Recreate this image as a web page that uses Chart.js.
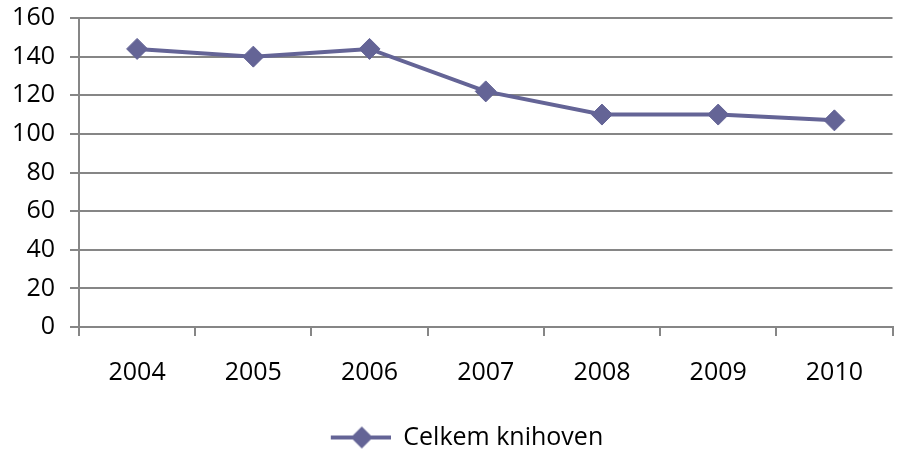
<!DOCTYPE html>
<html>
<head>
<meta charset="utf-8">
<script src="https://cdn.jsdelivr.net/npm/chart.js@4"></script>
<style>
  html, body { margin: 0; padding: 0; background: #fff; overflow: hidden; }
  #wrap { width: 904px; height: 451px; }
</style>
</head>
<body>
<div id="wrap"><canvas id="chart"></canvas></div>
<script>
/* ===== data ===== */
const years = ["2004", "2005", "2006", "2007", "2008", "2009", "2010"];
const libraries = [144, 140, 144, 122, 110, 110, 107];
const seriesName = "Celkem knihoven";
const yTicks = [0, 20, 40, 60, 80, 100, 120, 140, 160];

const LINE = "#646496";
const GRID = "#868686";
const FONT = "'Open Sans', 'Liberation Sans', sans-serif";

/* legend marker: line with a diamond on it (blank strip on the left nudges the legend right) */
function legendMarker() {
    const c = document.createElement("canvas");
    c.width = 90;
    c.height = 24;
    const g = c.getContext("2d");
    g.strokeStyle = LINE;
    g.lineWidth = 4;
    g.beginPath();
    g.moveTo(30, 12);
    g.lineTo(90, 12);
    g.stroke();
    g.fillStyle = LINE;
    g.beginPath();
    g.moveTo(61, 1);
    g.lineTo(72, 12);
    g.lineTo(61, 23);
    g.lineTo(50, 12);
    g.closePath();
    g.fill();
    return c;
}

new Chart(document.getElementById("chart"), {
    type: "line",
    data: {
        labels: years,
        datasets: [{
            label: seriesName,
            data: libraries,
            borderColor: LINE,
            backgroundColor: LINE,
            borderWidth: 4,
            pointStyle: "rectRot",
            pointRadius: 10.5,
            pointBorderWidth: 1,
            pointBackgroundColor: LINE,
            pointBorderColor: LINE,
            tension: 0
        }]
    },
    options: {
        responsive: true,
        maintainAspectRatio: false,
        animation: false,
        layout: { padding: { top: 18, left: 0, right: 0, bottom: -9 } },
        plugins: {
            tooltip: { enabled: false },
            legend: {
                position: "bottom",
                labels: {
                    usePointStyle: true,
                    pointStyle: legendMarker(),
                    pointStyleWidth: 90,
                    boxHeight: 24,
                    padding: 0,
                    color: "#000",
                    font: { family: FONT, size: 25 }
                }
            }
        },
        scales: {
            x: {
                offset: true,
                afterFit: s => { s.height = 98; },
                grid: {
                    offset: true,
                    drawOnChartArea: false,
                    drawTicks: true,
                    tickLength: 9,
                    color: GRID,
                    lineWidth: 2
                },
                border: { color: GRID, width: 2 },
                ticks: {
                    color: "#000",
                    padding: 22,
                    maxRotation: 0,
                    font: { family: FONT, size: 25 }
                }
            },
            y: {
                min: 0,
                max: 160,
                afterFit: s => {
                    s.width = 79;
                    s.paddingTop = 0;
                    s.paddingBottom = 0;
                },
                afterBuildTicks: s => { s.ticks = yTicks.map(v => ({ value: v })); },
                grid: {
                    color: GRID,
                    lineWidth: 2,
                    tickLength: 9
                },
                border: { color: GRID, width: 2 },
                ticks: {
                    color: "#000",
                    padding: 15,
                    font: { family: FONT, size: 25 }
                }
            }
        }
    }
});
</script>
</body>
</html>
